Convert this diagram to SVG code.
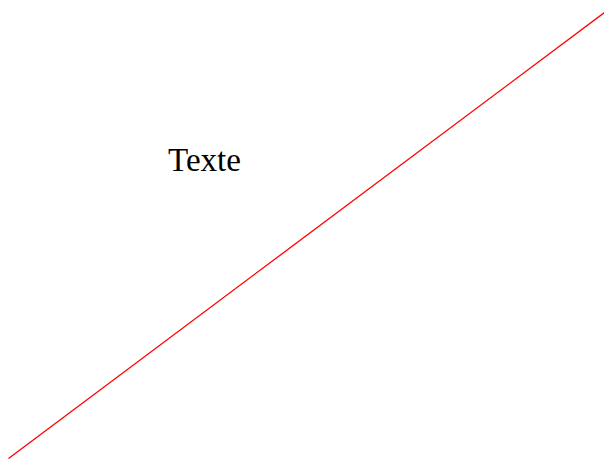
<svg xmlns="http://www.w3.org/2000/svg" width="604" height="459" viewBox="0 0 604 459">
<style>
.lbl{font-family:"Liberation Serif","DejaVu Serif",serif;font-size:33px;fill:#000}
.ln{stroke:#ff0000;stroke-width:1.3;fill:none}
</style>
<rect width="604" height="459" fill="#fff"/>
<g id="connectors">
<line class="ln" x1="8.5" y1="458.5" x2="604.5" y2="12.5"/>
</g>
<g id="label">
<text class="lbl" x="168" y="171" textLength="73" lengthAdjust="spacingAndGlyphs">Texte</text>
</g>
</svg>
